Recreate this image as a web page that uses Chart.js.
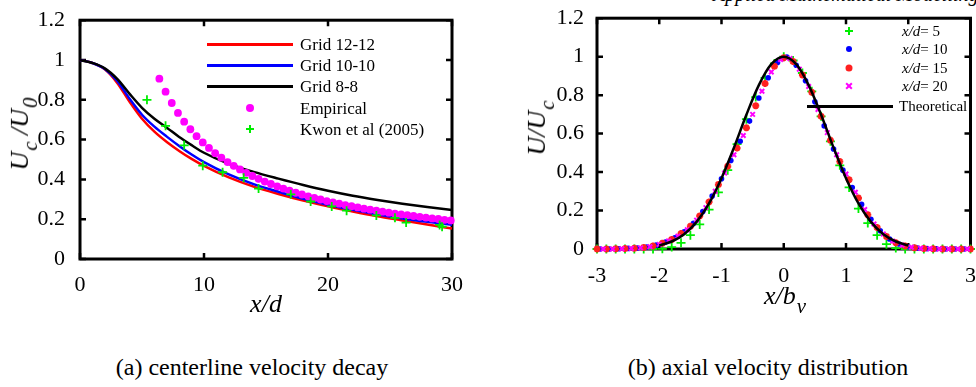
<!DOCTYPE html>
<html>
<head>
<meta charset="utf-8">
<script src="https://cdn.jsdelivr.net/npm/chart.js@4.4.1/dist/chart.umd.min.js"></script>
<style>
  html, body { margin: 0; padding: 0; background: #fff; }
  body { width: 976px; height: 387px; position: relative; overflow: hidden; color: #000;
         font-family: 'Liberation Serif', 'Times New Roman', serif; }
  .box { position: absolute; }
  .txt { position: absolute; white-space: nowrap; line-height: 1; }
  .ytitle { position: absolute; white-space: nowrap; line-height: 1; font-style: italic;
            transform: translate(-50%, -50%) rotate(-90deg); }
  .ytitle sub, .xtitle sub { font-size: 80%; vertical-align: -0.45em; margin-left: 1px; }
  .xtitle { position: absolute; white-space: nowrap; line-height: 1; font-style: italic;
            transform: translate(-50%, -50%); }
  .lg-line { position: absolute; height: 3px; margin-top: -1.5px; }
  .mk { position: absolute; transform: translate(-50%, -50%); }
  .dot { border-radius: 50%; }
  .plus { width: 8px; height: 8px; }
  .plus::before, .plus::after { content: ''; position: absolute; background: currentColor; }
  .plus::before { left: 0; right: 0; top: 3px; height: 2px; }
  .plus::after { top: 0; bottom: 0; left: 3px; width: 2px; }
  .cross { transform: translate(-50%, -50%) rotate(45deg); }
</style>
</head>
<body>

<div class="txt" style="left:713px; top:-16px; font-size:20px; font-style:italic;">Applied Mathematical Modelling 34 (2010)</div>

<div class="box" style="left:0; top:0; width:470px; height:320px;"><canvas id="decayChart"></canvas></div>
<div class="box" style="left:500px; top:0; width:482px; height:320px;"><canvas id="profileChart"></canvas></div>

<!-- axis titles -->
<div class="ytitle" style="left:24px; top:134px; font-size:26px;">U<sub>c</sub> /U<sub>0</sub></div>
<div class="xtitle" style="left:266px; top:304px; font-size:26px;">x/d</div>
<div class="ytitle" style="left:541px; top:128px; font-size:26px;">U/U<sub>c</sub></div>
<div class="xtitle" style="left:785px; top:300px; font-size:26px;">x/b<sub>v</sub></div>

<!-- legend (a) -->
<div class="lg-line" style="left:207px; top:44px; width:86px; background:#ff0000;"></div>
<div class="txt" style="left:300px; top:36px; font-size:17px;">Grid 12-12</div>
<div class="lg-line" style="left:207px; top:65px; width:86px; background:#0000ff;"></div>
<div class="txt" style="left:300px; top:57px; font-size:17px;">Grid 10-10</div>
<div class="lg-line" style="left:207px; top:86px; width:86px; background:#000;"></div>
<div class="txt" style="left:300px; top:78px; font-size:17px;">Grid 8-8</div>
<div class="mk dot" style="left:250px; top:108px; width:8px; height:8px; background:#ff00ff;"></div>
<div class="txt" style="left:300px; top:100px; font-size:17px;">Empirical</div>
<div class="mk plus" style="left:250px; top:129px; color:#00ee00;"></div>
<div class="txt" style="left:300px; top:121px; font-size:17px;">Kwon et al (2005)</div>

<!-- legend (b) -->
<div class="mk plus" style="left:849px; top:31px; color:#00ee00;"></div>
<div class="txt" style="left:902px; top:24px; font-size:15px;"><i>x/d</i>= 5</div>
<div class="mk dot" style="left:849px; top:49px; width:6px; height:6px; background:#0000ff;"></div>
<div class="txt" style="left:902px; top:42px; font-size:15px;"><i>x/d</i>= 10</div>
<div class="mk dot" style="left:849px; top:68px; width:7px; height:7px; background:#ff2020;"></div>
<div class="txt" style="left:902px; top:61px; font-size:15px;"><i>x/d</i>= 15</div>
<div class="mk plus cross" style="left:849px; top:86px; color:#ff00ff;"></div>
<div class="txt" style="left:902px; top:79px; font-size:15px;"><i>x/d</i>= 20</div>
<div class="lg-line" style="left:807px; top:106px; width:86px; background:#000;"></div>
<div class="txt" style="left:899px; top:99px; font-size:15px;">Theoretical</div>

<!-- captions -->
<div class="txt" style="left:252px; top:355px; font-size:24px; transform:translateX(-50%);">(a) centerline velocity decay</div>
<div class="txt" style="left:768px; top:355px; font-size:24px; transform:translateX(-50%);">(b) axial velocity distribution</div>

<script>
// (a) centerline velocity decay
const decayTicksX = [0, 10, 20, 30];
const decayTicksY = [0, 0.2, 0.4, 0.6, 0.8, 1, 1.2];

const gridX  = [0, 1, 2, 3, 4, 5, 6, 7, 8, 9, 10, 12, 14, 16, 18, 20, 22, 24, 26, 28, 30];
const grid12 = [1.0, 0.985, 0.953, 0.885, 0.79, 0.705, 0.64, 0.588, 0.543, 0.503, 0.468, 0.41, 0.364, 0.327, 0.294, 0.265, 0.239, 0.215, 0.194, 0.173, 0.153];
const grid10 = [1.0, 0.985, 0.955, 0.895, 0.805, 0.725, 0.665, 0.615, 0.568, 0.525, 0.487, 0.425, 0.376, 0.338, 0.303, 0.273, 0.247, 0.224, 0.204, 0.187, 0.172];
const grid8  = [1.0, 0.985, 0.958, 0.905, 0.83, 0.76, 0.705, 0.66, 0.613, 0.572, 0.534, 0.478, 0.438, 0.404, 0.372, 0.343, 0.318, 0.297, 0.278, 0.261, 0.246];

const empiricalX = [6.4, 6.9, 7.4, 7.9, 8.4, 8.9, 9.4, 9.9, 10.4, 10.9, 11.4, 11.9, 12.4, 12.9, 13.4, 13.9,
                    14.4, 14.9, 15.4, 15.9, 16.4, 16.9, 17.4, 17.9, 18.4, 18.9, 19.4, 19.9, 20.4, 20.9, 21.4, 21.9,
                    22.4, 22.9, 23.4, 23.9, 24.4, 24.9, 25.4, 25.9, 26.4, 26.9, 27.4, 27.9, 28.4, 28.9, 29.4, 29.9];
const empiricalY = [0.906, 0.841, 0.784, 0.734, 0.69, 0.652, 0.617, 0.586, 0.558, 0.532, 0.509, 0.487, 0.468, 0.45, 0.433, 0.417,
                    0.403, 0.389, 0.377, 0.365, 0.354, 0.343, 0.333, 0.324, 0.315, 0.307, 0.299, 0.291, 0.284, 0.278, 0.271, 0.265,
                    0.259, 0.253, 0.248, 0.243, 0.238, 0.233, 0.228, 0.224, 0.22, 0.216, 0.212, 0.208, 0.204, 0.201, 0.197, 0.194];

const kwonX = [5.4, 6.9, 8.4, 9.9, 11.5, 13.2, 14.4, 17.0, 18.6, 20.3, 21.5, 23.9, 25.4, 26.3, 29.0, 29.2];
const kwonY = [0.8, 0.669, 0.571, 0.469, 0.436, 0.408, 0.354, 0.325, 0.289, 0.264, 0.243, 0.219, 0.207, 0.183, 0.171, 0.162];

// (b) axial velocity distribution
const profileTicksX = [-3, -2, -1, 0, 1, 2, 3];
const profileTicksY = [0, 0.2, 0.4, 0.6, 0.8, 1, 1.2];

const profileX = [-3, -2.85, -2.7, -2.55, -2.4, -2.25, -2.1, -1.95, -1.8, -1.65, -1.5, -1.35, -1.2, -1.05, -0.9, -0.75, -0.6, -0.45, -0.3, -0.15,
                  0, 0.15, 0.3, 0.45, 0.6, 0.75, 0.9, 1.05, 1.2, 1.35, 1.5, 1.65, 1.8, 1.95, 2.1, 2.25, 2.4, 2.55, 2.7, 2.85, 3];
const xd5  = [0, 0, 0, 0, 0, 0, 0, 0.001, 0.01, 0.032, 0.072, 0.128, 0.205, 0.294, 0.41, 0.545, 0.675, 0.79, 0.89, 0.965,
              1.0, 0.98, 0.915, 0.82, 0.69, 0.56, 0.435, 0.32, 0.21, 0.135, 0.072, 0.025, 0.005, 0, 0, 0, 0, 0, 0, 0, 0];
const xd15 = [0, 0, 0.001, 0.002, 0.004, 0.008, 0.016, 0.03, 0.05, 0.08, 0.118, 0.172, 0.245, 0.335, 0.43, 0.525, 0.63, 0.745, 0.86, 0.95,
              0.995, 0.975, 0.905, 0.815, 0.69, 0.565, 0.455, 0.36, 0.265, 0.178, 0.112, 0.065, 0.033, 0.016, 0.007, 0.003, 0.001, 0, 0, 0, 0];

const profileX10 = [-2.95, -2.8, -2.65, -2.5, -2.35, -2.2, -2.05, -1.9, -1.75, -1.6, -1.45, -1.3, -1.15, -1, -0.85, -0.7, -0.55, -0.4, -0.25, -0.1,
                    0.05, 0.2, 0.35, 0.5, 0.65, 0.8, 0.95, 1.1, 1.25, 1.4, 1.55, 1.7, 1.85, 2, 2.15, 2.3, 2.45, 2.6, 2.75, 2.9];
const xd10 = [0, 0, 0.001, 0.003, 0.005, 0.01, 0.02, 0.036, 0.058, 0.09, 0.133, 0.195, 0.275, 0.365, 0.46, 0.56, 0.665, 0.785, 0.89, 0.97,
              0.998, 0.955, 0.875, 0.765, 0.64, 0.52, 0.41, 0.32, 0.232, 0.155, 0.095, 0.052, 0.026, 0.012, 0.005, 0.002, 0.001, 0, 0, 0];

const profileX20 = [-2.9, -2.75, -2.6, -2.45, -2.3, -2.15, -2, -1.85, -1.7, -1.55, -1.4, -1.25, -1.1, -0.95, -0.8, -0.65, -0.5, -0.35, -0.2, -0.05,
                    0.1, 0.25, 0.4, 0.55, 0.7, 0.85, 1, 1.15, 1.3, 1.45, 1.6, 1.75, 1.9, 2.05, 2.2, 2.35, 2.5, 2.65, 2.8, 2.95];
const xd20 = [0, 0, 0.001, 0.003, 0.006, 0.012, 0.024, 0.042, 0.067, 0.1, 0.15, 0.215, 0.3, 0.395, 0.49, 0.59, 0.7, 0.82, 0.92, 0.985,
              0.99, 0.935, 0.845, 0.725, 0.605, 0.49, 0.39, 0.295, 0.205, 0.13, 0.078, 0.041, 0.02, 0.009, 0.004, 0.001, 0, 0, 0, 0];

const theoryX = [-2, -1.8, -1.6, -1.4, -1.2, -1, -0.8, -0.6, -0.4, -0.2, 0, 0.2, 0.4, 0.6, 0.8, 1, 1.2, 1.4, 1.6, 1.8, 2];
const theoryY = [0.018, 0.039, 0.077, 0.141, 0.237, 0.368, 0.527, 0.698, 0.852, 0.961, 1, 0.961, 0.852, 0.698, 0.527, 0.368, 0.237, 0.141, 0.077, 0.039, 0.018];

const toPoints = (xs, ys) => xs.map((x, i) => ({ x: x, y: ys[i] }));

Chart.defaults.font.family = "'Liberation Serif', 'Times New Roman', serif";
const FONT = { family: "'Liberation Serif', 'Times New Roman', serif", size: 22 };

// frame + inward ticks on all four sides
const frameTicks = {
    id: 'frameTicks',
    beforeDatasetsDraw(chart) {
        const { ctx, chartArea: a, scales: { x, y } } = chart;
        ctx.save();
        ctx.strokeStyle = '#000';
        ctx.lineWidth = 3;
        ctx.strokeRect(a.left, a.top, a.right - a.left, a.bottom - a.top);
        ctx.lineWidth = 2.5;
        ctx.beginPath();
        x.ticks.forEach(t => {
            const px = x.getPixelForValue(t.value);
            ctx.moveTo(px, a.bottom); ctx.lineTo(px, a.bottom - 6);
            ctx.moveTo(px, a.top); ctx.lineTo(px, a.top + 6);
        });
        y.ticks.forEach(t => {
            const py = y.getPixelForValue(t.value);
            ctx.moveTo(a.left, py); ctx.lineTo(a.left + 6, py);
            ctx.moveTo(a.right, py); ctx.lineTo(a.right - 6, py);
        });
        ctx.stroke();
        ctx.restore();
    }
};

function axisOptions(min, max, tickList, pad, size, isY) {
    return {
        type: 'linear',
        min: min,
        max: max,
        grid: { display: false },
        border: { display: false },
        afterBuildTicks: s => { s.ticks = tickList.map(v => ({ value: v })); },
        afterFit: s => { if (isY) s.width = size; else s.height = size; },
        ticks: {
            color: '#000',
            font: FONT,
            padding: pad,
            maxRotation: 0,
            callback: v => String(Math.round(v * 10) / 10)
        }
    };
}

const baseOptions = {
    responsive: true,
    maintainAspectRatio: false,
    animation: false,
    plugins: { legend: { display: false }, tooltip: { enabled: false } },
    elements: { line: { cubicInterpolationMode: 'monotone' } }
};

function lineSet(label, xs, ys, color, order) {
    return {
        label: label,
        data: toPoints(xs, ys),
        showLine: true,
        borderColor: color,
        borderWidth: 2.5,
        pointRadius: 0,
        order: order,
        clip: false
    };
}

function drawCharts() {
    new Chart(document.getElementById('decayChart').getContext('2d'), {
        type: 'scatter',
        data: {
            datasets: [
                {
                    label: 'Kwon et al (2005)',
                    data: toPoints(kwonX, kwonY),
                    pointStyle: 'cross',
                    pointRadius: 4.5,
                    borderColor: '#00ee00',
                    borderWidth: 1.8,
                    order: 0,
                    clip: false
                },
                {
                    label: 'Empirical',
                    data: toPoints(empiricalX, empiricalY),
                    pointStyle: 'circle',
                    pointRadius: 3.9,
                    backgroundColor: '#ff00ff',
                    borderColor: '#ff00ff',
                    borderWidth: 0,
                    order: 1,
                    clip: false
                },
                lineSet('Grid 12-12', gridX, grid12, '#ff0000', 4),
                lineSet('Grid 10-10', gridX, grid10, '#0000ff', 3),
                lineSet('Grid 8-8', gridX, grid8, '#000000', 2)
            ]
        },
        options: Object.assign({}, baseOptions, {
            layout: { padding: { top: 14, right: 18, bottom: 0, left: 0 } },
            scales: {
                x: axisOptions(0, 30, decayTicksX, 5, 61, false),
                y: axisOptions(0, 1.2, decayTicksY, 7, 80, true)
            }
        }),
        plugins: [frameTicks]
    });

    new Chart(document.getElementById('profileChart').getContext('2d'), {
        type: 'scatter',
        data: {
            datasets: [
                lineSet('Theoretical', theoryX, theoryY, '#000000', 0),
                {
                    label: 'x/d= 20',
                    data: toPoints(profileX20, xd20),
                    pointStyle: 'crossRot',
                    pointRadius: 3.2,
                    borderColor: '#ff00ff',
                    borderWidth: 2,
                    order: 1,
                    clip: false
                },
                {
                    label: 'x/d= 15',
                    data: toPoints(profileX, xd15),
                    pointStyle: 'star',
                    pointRadius: 3.5,
                    borderColor: '#ff2020',
                    backgroundColor: '#ff2020',
                    borderWidth: 2.2,
                    order: 2,
                    clip: false
                },
                {
                    label: 'x/d= 10',
                    data: toPoints(profileX10, xd10),
                    pointStyle: 'circle',
                    pointRadius: 2.8,
                    backgroundColor: '#0000ff',
                    borderColor: '#0000ff',
                    borderWidth: 0,
                    order: 3,
                    clip: false
                },
                {
                    label: 'x/d= 5',
                    data: toPoints(profileX, xd5),
                    pointStyle: 'cross',
                    pointRadius: 4.5,
                    borderColor: '#00ee00',
                    borderWidth: 1.8,
                    order: 4,
                    clip: false
                }
            ]
        },
        options: Object.assign({}, baseOptions, {
            layout: { padding: { top: 15, right: 0, bottom: 0, left: 0 } },
            scales: {
                x: axisOptions(-3, 3, profileTicksX, 6, 71, false),
                y: axisOptions(0, 1.2, profileTicksY, 5, 97, true)
            }
        }),
        plugins: [frameTicks]
    });
}

if (document.fonts && document.fonts.load) {
    Promise.all([
        document.fonts.load("22px 'Liberation Serif'"),
        document.fonts.load("italic 22px 'Liberation Serif'")
    ]).then(drawCharts, drawCharts);
} else {
    drawCharts();
}
</script>
</body>
</html>
